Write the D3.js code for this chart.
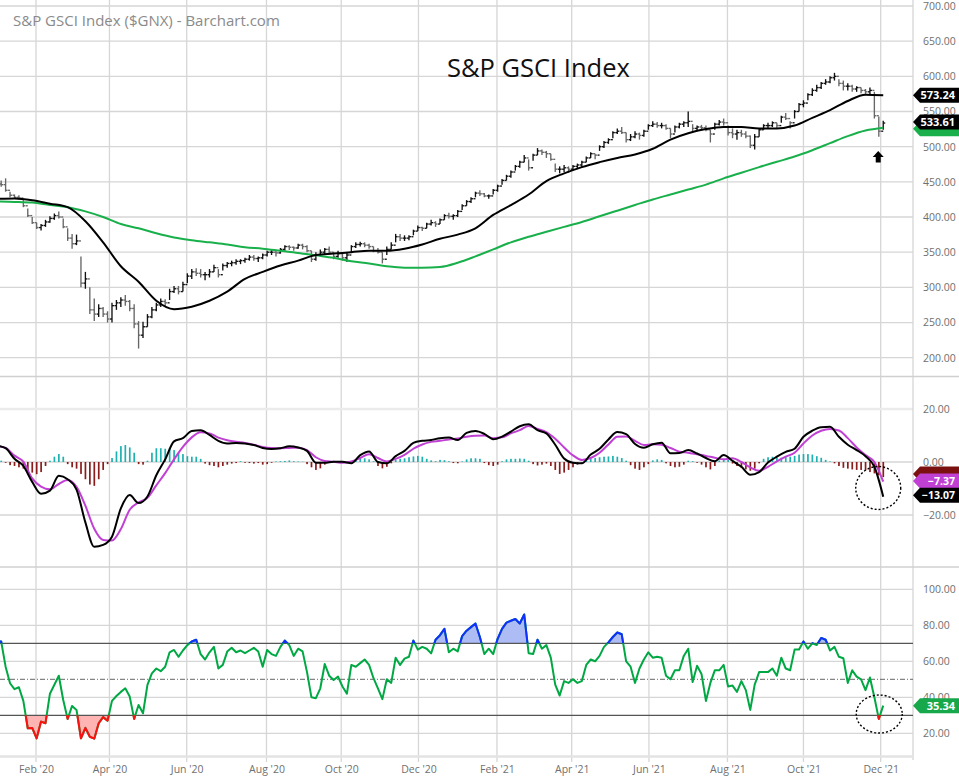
<!DOCTYPE html>
<html>
<head>
<meta charset="utf-8">
<title>S&P GSCI Index</title>
<script src="https://cdn.jsdelivr.net/npm/d3@7/dist/d3.min.js"></script>
<style>
  body { margin: 0; background: #fff; }
  svg { display: block; font-family: "Open Sans", "Noto Sans", sans-serif; }
</style>
</head>
<body>
<div id="chart"></div>
<script>
// price bars, histogram and RSI: one sample every 3.5 days from Jan 3 2020
const priceHigh = [
  452,452,455,436,432,431,424,412,400,392, 390,396,401,405,408,398,384,376,375,344,
  322,300,284,276,272,266,278,282,286,289, 282,276,252,251,262,272,278,284,283,298,
  302,302,308,320,326,327,326,322,326,332, 326,334,336,338,340,340,342,346,346,344,
  348,352,354,352,356,360,360,358,362,362, 360,352,350,354,356,358,350,352,350,350,
  360,364,365,364,362,358,356,350,358,364, 376,376,374,374,382,388,386,392,396,394,
  398,404,406,404,410,418,424,428,436,438, 434,432,440,446,454,460,466,474,480,488,
  482,490,498,496,494,490,476,472,474,472, 474,476,480,486,492,490,502,508,512,522,
  526,528,520,518,522,520,524,532,536,535, 534,532,526,530,534,536,550,532,530,531,
  530,524,534,538,540,530,526,524,524,522, 516,518,526,532,534,536,534,544,548,536,
  552,562,566,576,583,588,592,596,600,605, 596,594,590,588,586,584,582,584,578,543,
  537
];
const priceLow = [
  444,443,436,428,426,425,414,400,390,383, 381,386,392,396,398,384,366,355,360,300,
  298,262,252,258,258,250,250,268,272,274, 266,242,213,228,244,256,266,272,272,282,
  292,290,294,306,312,316,314,310,314,322, 314,324,328,330,332,333,335,338,338,336,
  340,344,346,344,348,352,353,352,355,354, 350,336,338,344,346,348,340,342,338,336,
  350,356,358,357,355,350,348,334,346,354, 364,366,366,367,374,380,380,384,388,386,
  390,396,398,396,400,410,416,420,428,430, 428,426,432,436,446,452,456,466,470,478,
  466,480,488,488,484,480,464,462,464,463, 466,468,470,478,484,482,494,498,504,512,
  518,518,506,508,512,510,514,524,528,527, 526,524,512,520,526,528,528,522,522,524,
  522,506,524,530,530,516,512,510,514,512, 498,496,514,524,526,528,526,534,538,526,
  540,550,556,566,572,578,582,588,590,594, 586,580,580,578,578,576,574,574,540,514,
  524
];
const priceClose = [
  447,446,438,431,428,427,416,402,392,385, 388,393,398,402,400,386,370,362,366,306,
  312,268,262,270,262,255,274,278,282,280, 270,248,232,244,258,268,275,280,278,294,
  298,294,304,316,322,320,318,318,322,328, 318,331,334,335,337,338,340,343,341,342,
  346,350,350,349,354,358,357,356,360,358, 352,340,346,350,354,350,344,348,342,346,
  358,361,362,360,358,352,350,340,354,360, 372,370,370,372,380,385,384,390,392,390,
  396,402,401,402,408,416,422,426,434,433, 430,430,438,444,452,458,464,472,478,484,
  470,488,494,492,490,482,468,468,470,468, 472,474,478,484,490,488,500,506,510,520,
  522,520,510,514,518,516,522,530,532,530, 530,526,518,528,532,534,536,526,528,527,
  524,518,532,535,534,520,518,520,518,515, 502,514,524,530,530,534,530,542,540,534,
  550,560,562,574,580,584,590,592,598,600, 590,586,586,582,584,580,578,580,544,522,
  533.61
];
// moving averages: one sample every 14 days
const ma50 = [
  426,426.5,424,419,414,394,364,330,308,281, 269,272.5,281,294,312,322,331,338,346,348,
  350,352,352,355,361,369,375,384,403,417, 432,451,462,471,478,484,489,497,510,519,
  525,528,528,526,526,530,541,552,565,574, 573.24
];
const ma200 = [
  422,421.5,420.5,417,414,408,400,390,384,377, 371,367,364,361,357,355,352,349,345.5,342,
  337,334,330,328,328,329,335,344,354,364, 372,379,386,393,401,409,417,425,432,439,
  446,455,463,471,478.5,486,495,505,515,523, 527
];
// MACD and signal: one sample every 7 days
const macdLine = [
  6.2,5.2,1.2,-1.5,-7.5,-12.0,-10.8,-5.2,-6.5,-10.4, -22.8,-32.0,-31.3,-28.2,-17.5,-12.5,-15.5,-13.0,-5.0,1.0,
  7.8,9.0,11.7,12.0,10.2,8.0,7.0,7.2,7.0,6.4, 5.3,4.9,5.2,5.9,5.5,4.2,-0.3,-0.3,0.1,0.1,
  -0.5,2.6,4.0,0.0,-0.5,2.2,4.2,7.2,8.0,8.3, 9.0,9.2,8.3,11.0,11.7,10.6,8.6,9.6,11.5,13.5,
  14.2,12.0,10.8,6.5,1.3,-0.3,-0.5,2.8,5.0,8.5, 11.3,10.5,6.8,5.4,6.7,7.3,3.3,3.4,4.5,3.2,
  1.5,0.3,2.6,0.4,-1.8,-4.8,-3.8,-0.2,2.0,3.8, 5.0,9.5,11.8,13.1,13.3,9.5,6.5,4.5,2.2,-1.8,
  -13.07
];
const macdSignal = [
  6.0,5.3,2.4,0.1,-6.2,-9.3,-10.3,-8.3,-6.8,-9.4, -16.5,-25.2,-29.4,-29.6,-25.3,-18.0,-15.2,-13.5,-8.8,-4.2,
  1.0,5.7,9.3,11.2,10.8,9.2,8.2,7.6,7.2,6.5, 5.7,5.3,5.2,5.3,5.4,4.5,1.8,0.4,0.1,-0.3,
  0.2,1.5,2.9,1.5,0.2,1.2,2.7,5.0,6.6,7.6, 8.0,8.5,8.9,9.5,9.9,10.0,9.0,9.3,10.8,12.0,
  13.6,12.5,11.3,8.8,5.5,2.5,0.8,1.5,3.5,6.6, 9.5,9.6,8.0,6.4,6.7,6.5,5.3,3.9,3.5,2.9,
  2.3,1.6,1.0,1.4,0.0,-2.0,-3.3,-1.8,0.2,2.0, 3.5,7.0,10.0,11.8,12.5,11.9,9.0,5.5,2.6,0.0,
  -7.37
];
const macdHist = [
  0.5,0.5,-0.3,-1.2,-1.5,-2.0,-2.5,-3.2,-4.0,-4.6, -3.8,-1.5,0.5,2.0,3.0,2.0,-0.8,-2.0,-2.5,-4.5,
  -6.5,-8.5,-9.0,-6.5,-3.0,-0.8,1.5,4.0,6.0,6.4, 5.5,3.5,-0.8,-1.0,0.5,3.5,5.2,5.2,5.0,5.2,
  4.5,3.5,3.0,2.2,2.0,2.0,1.2,-0.6,-1.2,-1.5, -2.0,-1.5,-1.0,-0.6,-0.4,0.3,-0.3,-0.4,-0.6,-0.4,
  -1.0,-0.8,-0.3,0.2,0.3,0.4,0.6,0.3,0.2,0.1, -0.8,-2.0,-3.0,-2.4,-1.0,-0.3,0.1,0.2,0.1,-0.2,
  0.4,1.0,1.3,1.4,1.0,0.3,-1.5,-2.4,-1.8,-0.5, 0.8,1.2,1.4,1.8,2.1,2.3,2.0,1.2,0.6,0.3,
  0.8,0.7,0.3,-0.4,-0.5,0.2,1.0,1.4,1.4,1.2, -0.4,-1.2,-1.5,-1.0,0.3,1.0,1.2,1.2,1.3,1.2,
  0.5,-0.8,-1.3,-1.0,-0.6,-1.5,-3.0,-4.5,-4.0,-3.0, -2.0,-1.0,-0.2,0.8,1.3,1.5,1.8,2.0,2.1,2.3,
  2.0,1.5,0.5,-1.2,-2.5,-3.0,-2.0,-0.8,0.6,1.0, 0.8,-0.5,-1.5,-2.0,-1.8,-1.0,0.5,0.3,-0.3,-1.0,
  -2.0,-2.8,-1.5,0.6,1.0,0.8,-0.6,-1.5,-2.2,-2.8, -3.3,-2.5,-0.5,1.2,1.8,2.0,1.8,1.6,1.8,2.0,
  2.3,2.8,3.0,3.0,2.8,2.2,1.6,0.8,0.2,-0.5, -1.5,-2.2,-2.5,-2.8,-3.0,-3.0,-3.2,-3.8,-4.3,-5.0,
  -5.7
];
const rsi = [
  71,71,57,47.8,44.5,45.6,38,22.8,23,17.2, 26.5,25.6,42,47,52,38.5,28,35.2,33,17.2,
  23,18.1,17,25.6,29,27,38,40.7,43,45, 40.4,28,35.7,31.1,46.9,53.3,56,54.5,57,65,
  66.3,62.5,66,69,71,72,64,61,65,68, 56,58,65.4,67.5,65,66,64.5,66,67.5,65.4,
  57,66.3,64,63,68,71.5,69,63,67,65.5, 54,40,39.5,45,58.5,52,49.6,51.5,46,42,
  58,57,59,61,58,50.6,45,39,50,48, 62,58,61.5,62.5,71.5,66.5,68,67,64.4,72,
  74.5,78,65,67,65.5,74,77,79,81,73.5, 64,67,64,72.5,78,81.5,82.5,83.5,81,86,
  64.5,64,72,67,69,62,47,41,49,48, 50,48,49,58,61,60,63,68,70.5,73.5,
  76,75,60,57,48,56,61,65,62,62.5, 62,52,50,55,55,63,67,48.5,57.5,53,
  38,48,55,55,58,46,46.5,43,49,44, 33,47,54,54,54,56,52,62,56,55,
  66.5,66.5,71,67,70,69,73,72,66,68, 62.5,61.7,48,55,51.5,50,44,51,40,28,
  35.34
];
const tickDates = ["2020-02-03","2020-04-01","2020-06-01","2020-08-03","2020-10-01","2020-12-01",
  "2021-02-01","2021-04-01","2021-06-01","2021-08-02","2021-10-01","2021-12-01"];
const tickLabels = ["Feb '20","Apr '20","Jun '20","Aug '20","Oct '20","Dec '20",
  "Feb '21","Apr '21","Jun '21","Aug '21","Oct '21","Dec '21"];
const priceTicks = [200,250,300,350,400,450,500,550,600,650,700];
const macdTicks = [20,0,-20];
const rsiTicks = [100,80,60,40,20];

const W = 959, H = 781, plotR = 913;
const font = '"Open Sans", "Noto Sans", sans-serif';
const t0 = Date.UTC(2020, 0, 3), DAY = 864e5;
const dateAt = (i, step) => new Date(t0 + i * step * DAY);
const parse = d3.utcParse("%Y-%m-%d");

const svg = d3.select("#chart").append("svg").attr("width", W).attr("height", H);

const x = d3.scaleUtc().domain([parse("2020-02-03"), parse("2021-12-01")]).range([36, 880.7]);
const yP = d3.scaleLinear().domain([200, 700]).range([357.7, 6]);
const yM = d3.scaleLinear().domain([-20, 20]).range([515, 409]);
const yR = d3.scaleLinear().domain([20, 100]).range([733.3, 589.3]);

const defs = svg.append("defs");
function clip(id, y0, y1) {
  defs.append("clipPath").attr("id", id).append("rect")
    .attr("x", 0).attr("y", y0).attr("width", plotR).attr("height", y1 - y0);
}
clip("clipP", 0, 376);
clip("clipM", 378, 566);
clip("clipR", 568, 756);
clip("clipHi", 568, yR(70));
clip("clipLo", yR(30), 756);

// grid
const grid = svg.append("g").attr("stroke", "#d6d6d6").attr("stroke-width", 1.3);
grid.selectAll(".vg").data(tickDates).join("line")
  .attr("x1", d => x(parse(d))).attr("x2", d => x(parse(d)))
  .attr("y1", 0).attr("y2", 762);
grid.selectAll(".pg").data(priceTicks).join("line")
  .attr("x1", 0).attr("x2", plotR).attr("y1", d => yP(d)).attr("y2", d => yP(d));
grid.selectAll(".mg").data(macdTicks).join("line")
  .attr("x1", 0).attr("x2", plotR).attr("y1", d => yM(d)).attr("y2", d => yM(d))
  .attr("stroke", d => d === 20 ? "#ebebeb" : "#d6d6d6")
  .attr("stroke-width", d => d === 20 ? 2.5 : 1.3);
grid.selectAll(".rg").data(rsiTicks).join("line")
  .attr("x1", 0).attr("x2", plotR).attr("y1", d => yR(d)).attr("y2", d => yR(d));
grid.append("line").attr("x1", plotR).attr("x2", plotR).attr("y1", 0).attr("y2", 760);

// panel separators
svg.append("g").attr("stroke", "#d0d0d0").attr("stroke-width", 1.5)
  .selectAll("line").data([376.5, 567]).join("line")
  .attr("x1", 0).attr("x2", W).attr("y1", d => d).attr("y2", d => d);
svg.append("line").attr("x1", 0).attr("x2", plotR).attr("y1", 756.5).attr("y2", 756.5)
  .attr("stroke", "#e3e3e3").attr("stroke-width", 2.5);

// right axes
function rightAxis(scale, ticks) {
  const g = svg.append("g").attr("transform", `translate(${plotR},0)`)
    .call(d3.axisRight(scale).tickValues(ticks).tickFormat(d3.format(".2f")).tickSize(0).tickPadding(10));
  g.select(".domain").remove();
  g.attr("font-family", font).attr("font-size", 10.5);
  g.selectAll("text").attr("fill", "#6f6f6f");
}
rightAxis(yP, priceTicks);
rightAxis(yM, macdTicks);
rightAxis(yR, rsiTicks);

// bottom axis
const xa = svg.append("g").attr("transform", "translate(0,762.5)")
  .call(d3.axisBottom(x).tickValues(tickDates.map(parse)).tickFormat((d, i) => tickLabels[i]).tickSize(0).tickPadding(3));
xa.select(".domain").remove();
xa.attr("font-family", font).attr("font-size", 10.5);
xa.selectAll("text").attr("fill", "#6f6f6f");

// titles
svg.append("text").attr("x", 13).attr("y", 26).attr("font-size", 15).attr("fill", "#8a8a8a")
  .text("S&P GSCI Index ($GNX) - Barchart.com");
svg.append("text").attr("x", 447).attr("y", 77).attr("font-size", 25.5).attr("fill", "#111")
  .text("S&P GSCI Index");

// ---- price panel ----
const pG = svg.append("g").attr("clip-path", "url(#clipP)");
const pIdx = d3.range(priceHigh.length);
const px = i => x(dateAt(i, 3.5));
const openOf = i => i ? priceClose[i - 1] : priceClose[i];
const bar = pG.append("g").selectAll("g").data(pIdx).join("g")
  .attr("stroke", i => priceClose[i] >= openOf(i) ? "#111" : "#666")
  .attr("stroke-width", 1.35);
bar.append("line").attr("x1", px).attr("x2", px)
  .attr("y1", i => yP(priceHigh[i])).attr("y2", i => yP(priceLow[i]));
bar.append("line").attr("x1", i => px(i) - 2).attr("x2", px)
  .attr("y1", i => yP(openOf(i))).attr("y2", i => yP(openOf(i)));
bar.append("line").attr("x1", px).attr("x2", i => px(i) + 2)
  .attr("y1", i => yP(priceClose[i])).attr("y2", i => yP(priceClose[i]));

const maLine = d3.line().x((d, i) => x(dateAt(i, 14))).y(d => yP(d)).curve(d3.curveMonotoneX);
pG.append("path").datum(ma200).attr("d", maLine).attr("fill", "none")
  .attr("stroke", "#19b04b").attr("stroke-width", 2);
pG.append("path").datum(ma50).attr("d", maLine).attr("fill", "none")
  .attr("stroke", "#000").attr("stroke-width", 2);

// ---- MACD panel ----
const mG = svg.append("g").attr("clip-path", "url(#clipM)");
mG.selectAll("rect").data(macdHist).join("rect")
  .attr("x", (d, i) => x(dateAt(i, 3.5)) - 0.8).attr("width", 1.7)
  .attr("y", d => yM(Math.max(0, d))).attr("height", d => Math.abs(yM(d) - yM(0)))
  .attr("fill", d => d >= 0 ? "#1fb0b0" : "#8c1c1c");
const mLine = d3.line().x((d, i) => x(dateAt(i, 7))).y(d => yM(d)).curve(d3.curveMonotoneX);
mG.append("path").datum(macdSignal).attr("d", mLine).attr("fill", "none")
  .attr("stroke", "#c040d4").attr("stroke-width", 2);
mG.append("path").datum(macdLine).attr("d", mLine).attr("fill", "none")
  .attr("stroke", "#000").attr("stroke-width", 2);

// ---- RSI panel ----
const rG = svg.append("g").attr("clip-path", "url(#clipR)");
const rx = (d, i) => x(dateAt(i, 3.5));
rG.append("path").datum(rsi).attr("clip-path", "url(#clipHi)")
  .attr("d", d3.area().x(rx).y0(yR(70)).y1(d => yR(d)))
  .attr("fill", "#aebcf5");
rG.append("path").datum(rsi).attr("clip-path", "url(#clipLo)")
  .attr("d", d3.area().x(rx).y0(yR(30)).y1(d => yR(d)))
  .attr("fill", "#ffb4b4");
rG.append("line").attr("x1", 0).attr("x2", plotR).attr("y1", yR(50)).attr("y2", yR(50))
  .attr("stroke", "#666").attr("stroke-width", 1).attr("stroke-dasharray", "5,2,1,2");
rG.selectAll(".lvl").data([70, 30]).join("line")
  .attr("x1", 0).attr("x2", plotR).attr("y1", d => yR(d)).attr("y2", d => yR(d))
  .attr("stroke", "#555").attr("stroke-width", 1.2);
const rLine = d3.line().x(rx).y(d => yR(d));
[["#00a843", null], ["#1030ff", "url(#clipHi)"], ["#ff1010", "url(#clipLo)"]].forEach(([c, cp]) => {
  rG.append("path").datum(rsi).attr("d", rLine).attr("fill", "none")
    .attr("clip-path", cp).attr("stroke", c).attr("stroke-width", 2).attr("stroke-linejoin", "round");
});

// ---- value tags ----
function tag(yc, fill, label, size) {
  const g = svg.append("g").attr("transform", `translate(0,${yc})`);
  g.append("path").attr("d", `M${plotR},0L${plotR + 7},-7.5H${W}V7.5H${plotR + 7}Z`).attr("fill", fill);
  if (label) g.append("text").attr("x", 955).attr("dy", "0.36em").attr("text-anchor", "end")
    .attr("font-size", size || 11).attr("font-weight", 700).attr("fill", "#fff").text(label);
}
const last = a => a[a.length - 1];
tag(yP(last(ma200)) + 1, "#19b04b", null);
tag(yP(last(priceClose)) - 1, "#000", d3.format(".2f")(last(priceClose)));
tag(yP(last(ma50)), "#000", d3.format(".2f")(last(ma50)));
tag(yM(last(macdHist)) - 3, "#7a1010", null);
tag(yM(last(macdSignal)) - 0.5, "#c040d4", d3.format(".2f")(last(macdSignal)), 10.5);
tag(yM(last(macdLine)) - 1.5, "#000", d3.format(".2f")(last(macdLine)), 10.5);
tag(yR(last(rsi)), "#16a84a", d3.format(".2f")(last(rsi)));

// ---- annotations ----
const xEnd = x(dateAt(priceHigh.length - 1, 3.5));
const ann = svg.append("g").attr("fill", "none").attr("stroke", "#000")
  .attr("stroke-width", 1.4).attr("stroke-dasharray", "2,2");
ann.append("ellipse").attr("cx", xEnd - 5).attr("cy", yM(-9.8)).attr("rx", 22.5).attr("ry", 21.5);
ann.append("ellipse").attr("cx", xEnd - 4).attr("cy", yR(30.7)).attr("rx", 23).attr("ry", 19);
const ax = xEnd - 5, ay = yP(494);
svg.append("path").attr("fill", "#000")
  .attr("d", `M${ax},${ay}l5.5,6h-3v5.5h-5v-5.5h-3z`);
</script>
</body>
</html>
